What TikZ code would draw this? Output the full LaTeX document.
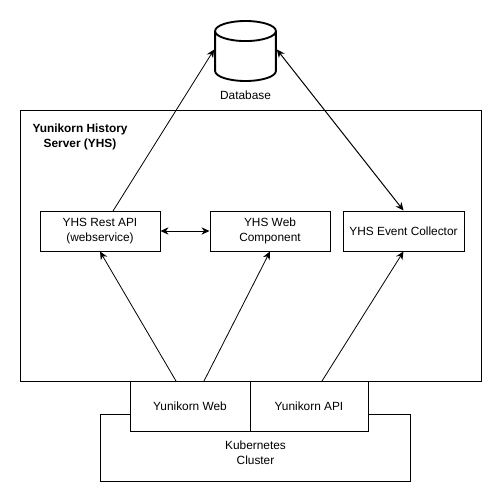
\documentclass[tikz,border=0pt]{standalone}
\usepackage{fontspec}
\setmainfont{Liberation Sans}
\usetikzlibrary{arrows.meta,shapes.geometric}

\tikzset{
  txt/.style={font=\fontsize{8.9}{11.25}\selectfont,align=center,inner sep=0pt},
  box/.style={txt,draw=black,fill=white,line width=0.75pt},
  conn/.style={draw=black,line width=0.6pt,-{Stealth[length=6pt,width=5.5pt]}},
  bothconn/.style={draw=black,line width=0.75pt,{Stealth[length=6pt,width=5.5pt]}-{Stealth[length=6pt,width=5.5pt]}}
}

\begin{document}
\begin{tikzpicture}[x=0.75pt,y=-0.75pt]

  \useasboundingbox (0,0) rectangle (501,502);

  % history server frame
  \node[box,minimum width=345.75pt,minimum height=202.5pt] (yhs) at (250.5,246) {};
  \node[txt,font=\fontsize{8.9}{11.25}\selectfont\bfseries] (yhstitle) at (80,137) {Yunikorn History\\Server (YHS)};

  % database
  \node[cylinder,shape border rotate=90,aspect=0.33,draw=black,fill=white,line width=1.4pt,
    minimum height=45pt,inner xsep=22.8pt,inner ysep=0pt,anchor=shape center] (db) at (245.5,51) {};
  \node[txt] (dblabel) at (245.5,95.5) {Database};

  % server components
  \node[box,minimum width=90pt,minimum height=30pt] (restapi) at (100,231) {YHS Rest API\\(webservice)};
  \node[box,minimum width=90pt,minimum height=30pt] (webcomp) at (270,231) {YHS Web\\Component};
  \node[box,minimum width=90.75pt,minimum height=30pt] (collector) at (403.5,231) {YHS Event Collector};

  % cluster and the two boxes on it
  \node[box,minimum width=232pt,minimum height=50.25pt] (cluster) at (255.5,447.5) {};
  \node[txt] (clusterlabel) at (255.5,453) {Kubernetes\\Cluster};
  \node[box,minimum width=90pt,minimum height=37.5pt] (ykweb) at (190,406) {Yunikorn Web};
  \node[box,minimum width=88.5pt,minimum height=37.5pt] (ykapi) at (309,406) {Yunikorn API};

  % free ends on the box edges
  \coordinate (restout) at (113,211);
  \coordinate (webouta) at (176,381);
  \coordinate (weboutb) at (204,381);
  \coordinate (apiout) at (322,381);

  % connectors
  \draw[conn] (restout) -- ([yshift=9pt]db.west);
  \draw[bothconn] ([yshift=9pt]db.east) -- (collector.north);
  \draw[bothconn] (restapi) -- (webcomp);
  \draw[conn] (webouta) -- (restapi.south);
  \draw[conn] (weboutb) -- (webcomp.south);
  \draw[conn] (apiout) -- (collector.south);

\end{tikzpicture}
\end{document}
